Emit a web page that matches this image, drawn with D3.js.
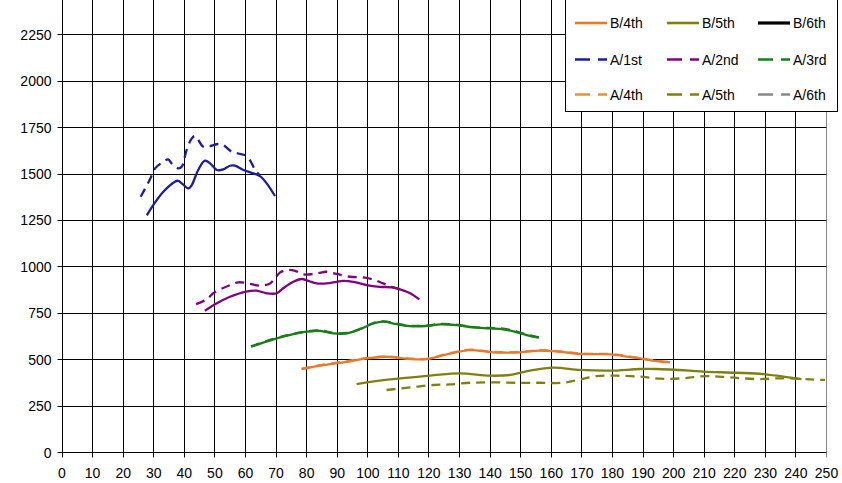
<!DOCTYPE html>
<html><head><meta charset="utf-8">
<script src="https://cdn.jsdelivr.net/npm/d3@7"></script>
<style>html,body{margin:0;padding:0;background:#fff;overflow:hidden}svg{display:block}text{font-family:"Liberation Sans",Arial,sans-serif}</style>
</head><body><svg id="c" width="842" height="483"></svg>
<script>
const xTicks = d3.range(0, 251, 10);
const yTicks = [0, 250, 500, 750, 1000, 1250, 1500, 1750, 2000, 2250];

const b1x = [27.9,30,33.3,37.1,38.2,41.5,42.6,44.7,46.9,48.6,50.8,52.9,55.1,56.7,59.5,62.2,64.9,67.1,69.8];
const b1y = [1275,1330,1402,1456,1461,1420,1438,1519,1569,1555,1519,1522,1542,1542,1519,1504,1486,1447,1379];
const a1x = [25.9,28.9,30.6,33.3,34.9,36,38.2,39.3,40.9,42.6,43.7,46.4,48.6,51.3,52.9,55.7,57.8,60.6,62.2,63.3,64.9];
const a1y = [1375,1468,1528,1563,1576,1555,1528,1536,1626,1689,1702,1644,1648,1659,1653,1617,1608,1594,1555,1519,1490];
const b2x = [46.9,50.8,55.1,60,63.8,67.1,70.4,72.5,75.8,78.5,80.7,83.5,86.7,90,92.2,95.4,99.8,104.1,108,110.7,114,117];
const b2y = [761,801,836,863,869,855,855,882,917,932,922,908,908,917,922,917,899,890,887,876,855,822];
const a2x = [44,47.5,49.6,55.1,57.8,61.1,64.9,68.2,69.8,71.4,73.6,76.4,79.1,83.5,86.7,90,94.3,99.2,102.5,105.2,108,111];
const a2y = [797,822,855,899,914,908,896,908,935,966,980,976,957,962,971,959,944,939,926,908,890,876];
const b3x = [62,69.3,75.8,80.2,84.5,88.9,93.3,97.6,102,105.2,109.6,114,120,123.8,129.2,134.7,140.1,144.5,148.9,152.1,156.1];
const b3y = [567,607,635,648,653,639,639,661,693,702,689,678,680,688,684,671,666,661,645,630,616];
const a3x = [62,69.3,75.8,80.2,84.5,88.9,93.3,97.6,102,105.2,109.6,114,120,123.8,129.2,134.7,140.1,144.5,148.9,152.1,156.1];
const a3y = [569,609,637,650,655,641,641,663,695,704,691,680,682,690,686,673,668,664,649,633,618];
const b4x = [78.5,85.6,93.3,99.8,106.3,111.8,119.4,126,133.6,141.2,150,156.5,163,169.6,179.4,183.7,189.2,194.6,199];
const b4y = [447,468,486,504,513,504,500,526,549,537,537,546,540,528,526,517,504,490,483];
const a4x = [78.5,85.6,93.3,99.8,106.3,111.8,119.4,126,133.6,141.2,150,156.5,163,169.6,179.4,183.7,189.2,194.6,199];
const a4y = [449,470,489,506,515,506,502,528,551,539,539,548,542,530,528,520,506,492,485];
const b5x = [96.5,107.4,120.5,130.3,140.1,146.7,153.2,160.8,169.6,179.4,189.2,194.6,205.5,209.9,220.8,229.5,236,242];
const b5y = [366,391,411,424,411,415,438,454,442,438,447,447,438,433,427,420,406,393];
const a5x = [106.3,114,121.6,127,133.6,141.2,148.9,156.5,164.1,169.6,175,181.6,189.2,195.7,203.3,210.9,218.6,227.3,236,244.8,249.7];
const a5y = [334,348,361,364,373,375,373,373,373,391,409,411,406,395,397,409,402,393,397,391,388];
const b6x = [], b6y = [], a6x = [], a6y = [];

const seriesNames = ["B/1st","B/2nd","B/3rd","B/4th","B/5th","B/6th","A/1st","A/2nd","A/3rd","A/4th","A/5th","A/6th"];
const seriesColors = ["#1c1c9e","#800080","#1a7d1a","#e8782c","#808010","#000000","#1c1c9e","#800080","#1a7d1a","#e8903e","#808010","#888888"];
const seriesX = [b1x,b2x,b3x,b4x,b5x,b6x,a1x,a2x,a3x,a4x,a5x,a6x];
const seriesY = [b1y,b2y,b3y,b4y,b5y,b6y,a1y,a2y,a3y,a4y,a5y,a6y];

const svg = d3.select("#c");
svg.append("rect").attr("width",842).attr("height",483).attr("fill","#fff");
const x = d3.scaleLinear().domain([0,250]).range([61.5,826]);
const y = d3.scaleLinear().domain([0,2500]).range([452,-12.1]);
const px = v => Math.round(x(v)) + 0.5;
const py = v => Math.round(y(v)) + 0.5;

const grid = svg.append("g");
xTicks.forEach((t,i) => {
  grid.append("line").attr("x1",px(t)).attr("x2",px(t)).attr("y1",-20).attr("y2",py(0)+5)
    .attr("stroke", t===250 ? "#888" : "#000").attr("stroke-width",1);
});
yTicks.forEach(t => {
  grid.append("line").attr("x1",px(0)-5).attr("x2",px(250)).attr("y1",py(t)).attr("y2",py(t))
    .attr("stroke","#000").attr("stroke-width",1);
});
// tick labels
const xAxis = d3.axisBottom(x).tickValues(xTicks).tickSize(0).tickPadding(0).tickFormat(d3.format("d"));
const gx = svg.append("g").attr("transform","translate(0,"+(py(0))+")").call(xAxis);
gx.select(".domain").remove();
gx.selectAll("text").attr("y",25).attr("dy",null).attr("font-size","14px").attr("fill","#000")
  .attr("font-family","'Liberation Sans',Arial,sans-serif");
const yAxis = d3.axisLeft(y).tickValues(yTicks).tickSize(0).tickPadding(0).tickFormat(d3.format("d"));
const gy = svg.append("g").attr("transform","translate("+(px(0))+",0)").call(yAxis);
gy.select(".domain").remove();
gy.selectAll("text").attr("x",-11).attr("dy","0.36em").attr("font-size","14px").attr("fill","#000")
  .attr("font-family","'Liberation Sans',Arial,sans-serif");

// series
const line = d3.line().x(d=>x(d[0])).y(d=>y(d[1])).curve(d3.curveCatmullRom.alpha(0.5));
const order = [0,6,1,7,9,3,8,2,10,4,11,5];
order.forEach(i => {
  const pts = seriesX[i].map((v,k)=>[v, seriesY[i][k]]);
  if (!pts.length) return;
  const dashed = seriesNames[i].startsWith("A");
  svg.append("path").attr("d", line(pts)).attr("fill","none")
    .attr("stroke", seriesColors[i]).attr("stroke-width", 2.3)
    .attr("stroke-dasharray", dashed ? "9,6" : null);
});

// legend (top row lies outside the visible picture, as in the reference)
const lg = svg.append("g");
lg.append("rect").attr("x",565.5).attr("y",-40).attr("width",272).attr("height",151.5)
  .attr("fill","#fff").attr("stroke","#000").attr("stroke-width",1);
const colX = [575,667,758];
const rowY = [23,59.5,94.5];
seriesNames.slice(3).forEach((n,j) => {
  const i = j + 3;
  const r = Math.floor(j/3), c = j%3;
  const yy = rowY[r], x0 = colX[c];
  const dashed = n.startsWith("A");
  lg.append("line").attr("x1",x0).attr("x2",x0+32).attr("y1",yy).attr("y2",yy)
    .attr("stroke",seriesColors[i]).attr("stroke-width", n==="B/6th"?3.2:2.6)
    .attr("stroke-dasharray", dashed ? "15,8" : null);
  lg.append("text").attr("x",x0+35).attr("y",yy+5).attr("font-size","14px").attr("fill","#000").text(n);
});
</script></body></html>
